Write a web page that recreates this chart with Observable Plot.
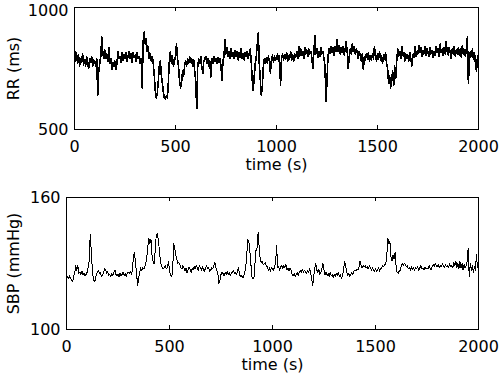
<!DOCTYPE html>
<html>
<head>
<meta charset="utf-8">
<script src="https://cdn.jsdelivr.net/npm/d3@7"></script>
<script src="https://cdn.jsdelivr.net/npm/@observablehq/plot@0.6"></script>
<style>
  html, body { margin: 0; padding: 0; background: #fff; }
  #chart { width: 500px; height: 376px; }
  #chart svg { display: block; }
  .crisp path, .crisp line { shape-rendering: crispEdges; }
</style>
</head>
<body>
<div id="chart"></div>
<script>
// sampling step (s) of the series below
const STEP = 5;
const xTicks = [0, 500, 1000, 1500, 2000];
const rrTicks = [500, 1000];
const sbpTicks = [100, 160];
const xLabel = "time (s)";
const rrLabel = "RR (ms)";
const sbpLabel = "SBP (mmHg)";

// RR interval (ms), one value every 5 s from 0 to 2000 s
const rrValues = [
  830, 780, 815, 770, 805, 760, 790, 775, 810, 765,
  785, 760, 800, 770, 750, 790, 775, 800, 760, 785,
  780, 760, 790, 640, 740, 770, 800, 880, 815, 790,
  825, 790, 810, 780, 835, 770, 790, 745, 775, 760,
  780, 745, 770, 820, 790, 800, 775, 815, 785, 805,
  790, 815, 780, 800, 820, 790, 810, 775, 815, 795,
  805, 780, 815, 790, 800, 770, 790, 670, 860, 900,
  850, 870, 820, 840, 790, 810, 780, 800, 770, 720,
  660, 630, 650, 700, 760, 780, 720, 690, 650, 630,
  625, 640, 630, 700, 790, 820, 770, 800, 760, 780,
  800, 850, 790, 760, 700, 670, 690, 740, 720, 760,
  780, 760, 790, 770, 800, 775, 790, 760, 785, 740,
  700, 585, 760, 790, 770, 800, 760, 730, 780, 790,
  800, 770, 790, 760, 780, 715, 790, 770, 800, 780,
  790, 770, 795, 775, 790, 760, 700, 780, 800, 870,
  810, 835, 800, 820, 790, 830, 800, 815, 790, 825,
  800, 820, 785, 815, 795, 830, 790, 810, 785, 815,
  800, 820, 790, 810, 830, 780, 700, 660, 720, 770,
  800, 850, 895, 770, 700, 640, 680, 760, 790, 770,
  795, 770, 800, 780, 730, 790, 805, 775, 800, 785,
  790, 810, 780, 800, 680, 790, 810, 785, 805, 790,
  815, 780, 800, 790, 820, 785, 805, 780, 810, 795,
  820, 790, 840, 800, 830, 805, 820, 790, 835, 810,
  825, 800, 830, 810, 820, 795, 750, 815, 885, 810,
  830, 795, 820, 800, 835, 810, 820, 790, 760, 615,
  700, 800, 830, 810, 840, 815, 835, 805, 840, 820,
  870, 820, 845, 810, 835, 815, 840, 805, 830, 860,
  820, 750, 800, 830, 810, 850, 820, 840, 810, 830,
  815, 790, 820, 800, 780, 810, 745, 800, 785, 810,
  790, 815, 780, 800, 785, 810, 790, 840, 800, 780,
  810, 790, 820, 785, 800, 770, 805, 790, 815, 770,
  750, 690, 720, 670, 700, 740, 680, 760, 710, 780,
  830, 800, 820, 790, 840, 805, 815, 780, 810, 790,
  805, 780, 815, 790, 760, 805, 795, 840, 800, 820,
  810, 845, 815, 835, 800, 825, 810, 840, 805, 830,
  815, 800, 835, 810, 825, 795, 820, 805, 840, 815,
  830, 800, 850, 815, 830, 805, 835, 810, 860, 820,
  805, 835, 815, 790, 830, 810, 840, 800, 825, 810,
  835, 805, 830, 795, 845, 810, 825, 800, 830, 880,
  690, 780, 820, 800, 830, 790, 815, 770, 740, 800,
  790
];

// Systolic blood pressure (mmHg), one value every 5 s from 0 to 2000 s
const sbpValues = [
  123.5, 124, 123, 124.5, 123, 122.5, 122, 124, 126, 129,
  127, 129, 125.5, 126, 125, 126.5, 125, 125.5, 124.5, 125,
  126, 128, 131, 143, 136, 128, 123, 122, 122.5, 125,
  126, 127, 125.5, 126, 124, 124.5, 126, 127.5, 127, 125.5,
  126.5, 124.5, 125, 124, 125.5, 124.5, 126, 127, 125, 124.5,
  125, 124, 125.5, 124.5, 125, 126, 124.5, 125.5, 124, 125.5,
  126, 125.5, 126.5, 125, 127, 133, 135, 130, 126, 120,
  123, 126, 128, 127, 128, 127.5, 128.5, 130, 133, 138,
  141.5, 139, 141, 134, 131, 130, 135, 142, 143.5, 141,
  137, 132, 129, 128, 127.5, 128, 129, 127.5, 128.5, 131,
  127, 124.5, 124, 126, 139, 137, 134, 132, 130, 130.5,
  129.5, 128, 127.5, 129, 128, 126.5, 128, 125.5, 127, 128.5,
  127.5, 126, 128, 127, 128.5, 127.5, 129, 128, 127, 129,
  128, 127, 128.5, 127, 126.5, 128, 129, 127.5, 128, 126.5,
  127, 128, 127.5, 129, 130.5, 128, 127, 125, 121, 122.5,
  125, 126, 125.5, 124.5, 126, 125, 126.5, 125, 126, 124.5,
  125.5, 126, 127, 125.5, 126, 125, 126.5, 128, 125, 124,
  124.5, 123.5, 124, 126, 128, 134, 141, 140, 136, 130,
  124, 123, 123.5, 130, 136, 137, 144, 138, 132, 130.5,
  131, 129.5, 130, 130.5, 129, 128.5, 127, 128, 126.5, 128,
  127.5, 127, 128.5, 130, 138, 128, 128.5, 127, 128.5, 129,
  127.5, 129, 128, 129.5, 127, 128, 126.5, 128, 127, 125,
  124.5, 125.5, 124, 125, 126, 124.5, 126, 127, 126, 127.5,
  126, 127, 126.5, 125.5, 127, 126, 127.5, 126, 123, 120,
  124, 128, 130, 127, 126, 127.5, 125, 126, 128, 130,
  127, 125, 126, 124.5, 125.5, 124, 126, 124.5, 125, 123.5,
  125, 124, 125.5, 124.5, 126, 124, 125, 123, 124.5, 127,
  131, 129, 126, 124.5, 125.5, 124, 125, 126, 125, 126.5,
  127, 126.5, 127.5, 127, 128.5, 131, 129, 128, 129, 128.5,
  129, 128, 128.5, 127.5, 129, 128, 127, 128, 127, 126.5,
  127.5, 126.5, 127, 128, 126.5, 127.5, 128, 129, 128.5, 129.5,
  130, 134, 141.5, 139, 140, 133, 131, 134, 132, 135,
  129, 126, 125.5, 126.5, 127, 129, 130, 129, 130, 129.5,
  128.5, 129, 127.5, 128, 127, 128.5, 127.5, 128, 127, 128,
  127.5, 128.5, 127, 128, 129, 127.5, 128, 127, 128.5, 127.5,
  128, 127.5, 129, 128, 127, 128.5, 129.5, 128.5, 130, 129,
  128.5, 129.5, 128, 129, 128.5, 130, 129, 128, 129.5, 128.5,
  129, 128, 130, 128.5, 129, 128, 130.5, 129, 131, 128,
  130, 127.5, 131, 128, 130, 127, 129.5, 128, 129, 131,
  137, 124, 130, 127, 129, 126, 128.5, 127, 134, 128,
  129
];

const rrData = rrValues.map((v, i) => ({t: i * STEP, v}));
const sbpData = sbpValues.map((v, i) => ({t: i * STEP, v}));

const FONT = "DejaVu Sans";
const FS = 16;

function panel({data, yDomain, yTicks, yLabel, marginTop, marginBottom, marginLeft, height, lineWidth, topLabelDy}) {
  const frameH = height - marginTop - marginBottom;
  const tickLen = 4;
  return Plot.plot({
    width: 500,
    height,
    marginTop,
    marginBottom,
    marginLeft,
    marginRight: 22,
    style: {fontFamily: FONT, fontSize: FS + "px", background: "#fff", color: "#000"},
    x: {domain: [0, 2000]},
    y: {domain: yDomain},
    marks: [
      Plot.line(data, {x: "t", y: "v", stroke: "#000", strokeWidth: lineWidth, className: "crisp"}),
      Plot.frame({stroke: "#000", strokeWidth: 1, className: "crisp"}),
      Plot.tickX(xTicks, {x: d => d, stroke: "#000", insetTop: frameH - tickLen, className: "crisp"}),
      Plot.tickX(xTicks, {x: d => d, stroke: "#000", insetBottom: frameH - tickLen, className: "crisp"}),
      Plot.axisX({ticks: xTicks, tickSize: 0, tickPadding: 11, fontSize: FS, tickFormat: d => String(d), label: null}),
      Plot.axisY({ticks: [yTicks[0]], tickSize: 0, tickPadding: 6, fontSize: FS, tickFormat: d => String(d), label: null}),
      Plot.axisY({ticks: [yTicks[1]], tickSize: 0, tickPadding: 6, dy: topLabelDy, fontSize: FS, tickFormat: d => String(d), label: null}),
      Plot.text([xLabel], {text: d => d, frameAnchor: "bottom", textAnchor: "middle", lineAnchor: "bottom", dy: 40, fontSize: FS, fill: "#000"}),
      Plot.text([yLabel], {text: d => d, frameAnchor: "left", textAnchor: "middle", lineAnchor: "bottom", rotate: -90, dx: -(marginLeft - 18), fontSize: FS, fill: "#000"})
    ]
  });
}

const rrPanel = panel({data: rrData, yDomain: [500, 1000], yTicks: rrTicks, yLabel: rrLabel,
  marginTop: 7, marginBottom: 59, marginLeft: 74, height: 188, lineWidth: 1.6, topLabelDy: 3});
const sbpPanel = panel({data: sbpData, yDomain: [100, 160], yTicks: sbpTicks, yLabel: sbpLabel,
  marginTop: 9, marginBottom: 47, marginLeft: 66, height: 188, lineWidth: 1, topLabelDy: 0});

const chart = document.getElementById("chart");
chart.appendChild(rrPanel);
chart.appendChild(sbpPanel);
</script>
</body>
</html>
